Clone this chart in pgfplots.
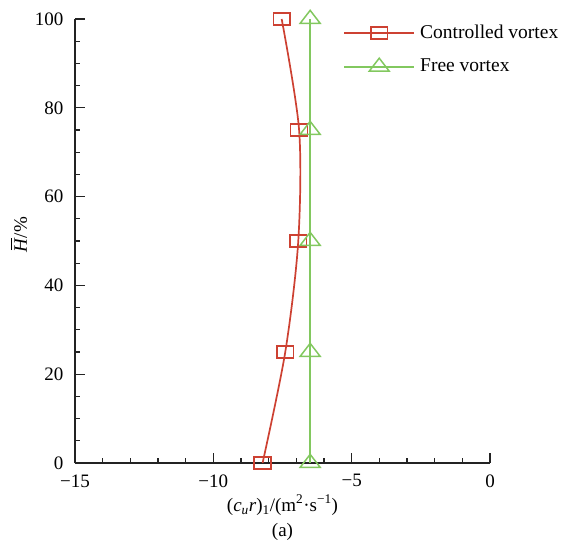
\documentclass[border=0pt]{standalone}
\usepackage{fontspec}
\setmainfont{Liberation Serif}
\usepackage{pgfplots}
\pgfplotsset{compat=1.18}

\definecolor{cvred}{RGB}{205,65,50}
\definecolor{fvgreen}{RGB}{130,200,95}
\definecolor{axisgray}{RGB}{35,35,35}

% italic H with a bar over it
\newcommand{\Hbar}{\rlap{\hspace{2.5bp}\raisebox{15bp}{\rule{12bp}{1bp}}}\textit{H}}

\begin{document}
\fontsize{19bp}{23bp}\selectfont
\begin{tikzpicture}
\useasboundingbox (-75bp,-82bp) rectangle (492bp,463bp);
\begin{axis}[
  at={(0,0)}, anchor=south west,
  scale only axis, width=415bp, height=444bp,
  xmin=-15, xmax=0, ymin=0, ymax=100,
  axis x line=bottom, axis y line=left,
  axis line style={-, line width=1.6bp, axisgray},
  tick align=inside,
  major tick length=10bp, minor tick length=5bp,
  tick style={line width=1.2bp, axisgray},
  xtick={-15,-10,-5,0}, xticklabels={−15,−10,−5,0},
  minor x tick num=4,
  ytick={0,20,40,60,80,100}, yticklabels={0,20,40,60,80,100},
  minor y tick num=3,
  tick label style={font=\fontsize{19bp}{23bp}\selectfont},
  xticklabel style={yshift=-5bp},
  yticklabel style={xshift=-5bp},
  every axis x label/.style={at={(axis description cs:0.5,-0.0946)}, anchor=center},
  every axis y label/.style={at={(axis description cs:-0.135,0.514)}, rotate=90, anchor=center},
  xlabel={(\textit{c}\textsubscript{\textit{u}}\textit{r})\textsubscript{1}/(m\textsuperscript{2}·s\textsuperscript{−1})},
  ylabel={\Hbar/\%},
  legend image code/.code={\draw[mark repeat=2,mark phase=2,#1] plot coordinates {(0bp,0bp) (35bp,0bp) (70bp,0bp)};},
  legend style={draw=none, fill=none, at={(0.646,0.99)}, anchor=north west,
    inner sep=0pt, row sep=16bp, column sep=4bp,
    nodes={inner sep=1bp, font=\fontsize{19.5bp}{23bp}\selectfont}},
  legend cell align=left,
  clip=false,
]
\addplot[cvred, line width=1.7bp, smooth, mark=square, mark size=7bp,
  mark options={xscale=1.2, yscale=0.85, line width=1.5bp}]
  coordinates {(-8.22,0) (-7.40,25) (-6.93,50) (-6.90,75) (-7.53,100)};
\addlegendentry{Controlled vortex}
\addplot[fvgreen, line width=1.9bp, mark=triangle, mark size=9bp,
  mark options={xscale=1.28, yscale=0.96, line width=1.5bp}]
  coordinates {(-6.5,0) (-6.5,25) (-6.5,50) (-6.5,75) (-6.5,100)};
\addlegendentry{Free vortex}
\node[anchor=center] at (axis description cs:0.5,-0.156) {(a)};
\end{axis}
\end{tikzpicture}
\end{document}
